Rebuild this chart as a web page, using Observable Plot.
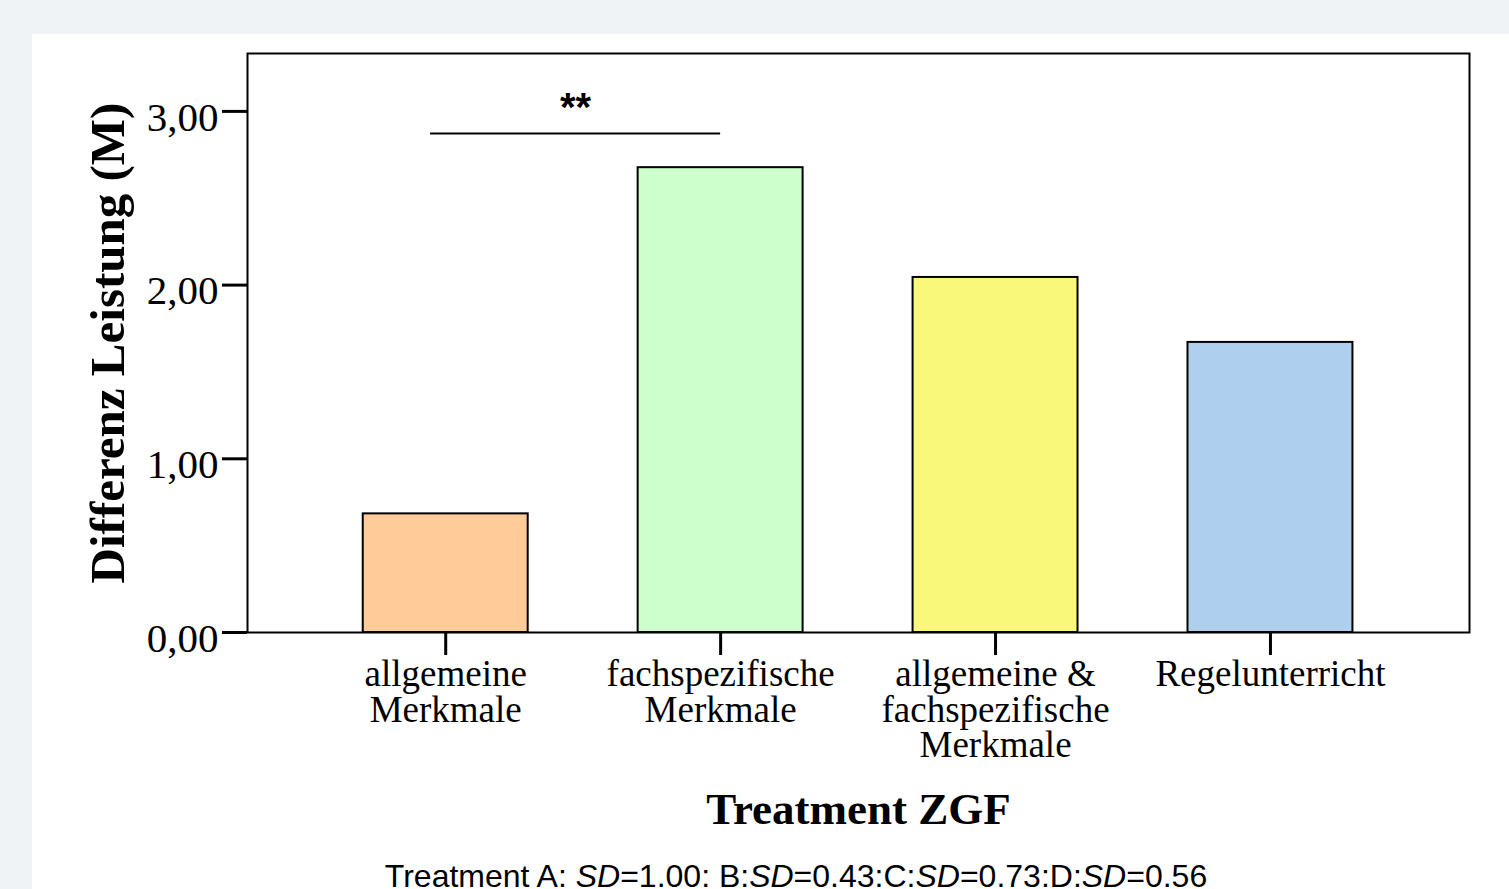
<!DOCTYPE html>
<html><head><meta charset="utf-8">
<script src="https://cdn.jsdelivr.net/npm/d3@7"></script>
<script src="https://cdn.jsdelivr.net/npm/@observablehq/plot@0.6"></script>
<style>
html,body{margin:0;padding:0;background:#eff3f6;width:1509px;height:889px;overflow:hidden;}
#panel{position:absolute;left:32px;top:34px;right:0;bottom:0;background:#fff;}
#chart{position:absolute;left:0;top:0;}
#caption{position:absolute;left:796px;top:860px;transform:translateX(-50%);white-space:nowrap;font-family:"Liberation Sans",Arial,sans-serif;font-size:32px;line-height:1;color:#000;}
</style></head><body>
<div id="panel"></div>
<div id="chart"></div>
<div id="caption">Treatment A: <i>SD</i>=1.00: B:<i>SD</i>=0.43:C:<i>SD</i>=0.73:D:<i>SD</i>=0.56</div>
<script>
const categories = ["allgemeine Merkmale", "fachspezifische Merkmale", "allgemeine & fachspezifische Merkmale", "Regelunterricht"];
const tickLabels = ["allgemeine\nMerkmale", "fachspezifische\nMerkmale", "allgemeine &\nfachspezifische\nMerkmale", "Regelunterricht"];
const means = [0.683, 2.676, 2.044, 1.670];
const barColors = ["#ffcc99", "#ccffcc", "#f9f87b", "#aed0ee"];
const yTicks = [0, 1, 2, 3];
const sigPair = ["allgemeine Merkmale", "fachspezifische Merkmale"];
const sigLevel = 2.873;
const sigLabel = "**";
const yTitle = "Differenz Leistung (M)";
const xTitle = "Treatment ZGF";

const pos = c => categories.indexOf(c) + 1;
const data = categories.map((c, i) => ({cat: c, pos: i + 1, value: means[i], color: barColors[i]}));
const half = 0.3;
const bx1 = pos(sigPair[0]) - 0.055, bx2 = pos(sigPair[1]);

const chart = Plot.plot({
  width: 1509, height: 840,
  marginLeft: 247, marginRight: 40, marginTop: 53, marginBottom: 208,
  x: {type: "linear", domain: [0.279, 4.724]},
  y: {domain: [0, 10/3]},
  color: {type: "identity"},
  style: {fontFamily: "'Liberation Serif', serif", background: "transparent", color: "black", overflow: "visible"},
  marks: [
    Plot.rectY(data, {x1: d => d.pos - half, x2: d => d.pos + half, y1: 0, y2: "value", fill: "color", stroke: "black", strokeWidth: 2}),
    Plot.frame({stroke: "black", strokeWidth: 2}),
    Plot.axisX(data.map(d => d.pos), {tickFormat: p => tickLabels[p - 1], tickSize: 23, tickPadding: 6, fontSize: 37, lineHeight: 0.95, strokeWidth: 3, label: null}),
    Plot.axisY(yTicks, {tickFormat: () => "", tickSize: 25, strokeWidth: 3, label: null}),
    Plot.axisY(yTicks, {tickFormat: d => d.toFixed(2).replace(".", ","), tickSize: 0, tickPadding: 29, fontSize: 41, dy: 6, label: null}),
    Plot.ruleY([sigLevel], {x1: bx1, x2: bx2, stroke: "black", strokeWidth: 2}),
    Plot.text([sigLabel], {x: (bx1 + bx2) / 2, y: sigLevel, dy: -12, lineAnchor: "bottom", fontFamily: "'Liberation Sans', sans-serif", fontWeight: "bold", fontSize: 40}),
    Plot.text([yTitle], {frameAnchor: "left", rotate: -90, dx: -139, fontSize: 49, fontWeight: "bold", textAnchor: "middle", lineAnchor: "middle"}),
    Plot.text([xTitle], {frameAnchor: "bottom", dy: 177, fontSize: 45, fontWeight: "bold", textAnchor: "middle", lineAnchor: "middle"})
  ]
});
document.getElementById("chart").appendChild(chart);
</script>
</body></html>
